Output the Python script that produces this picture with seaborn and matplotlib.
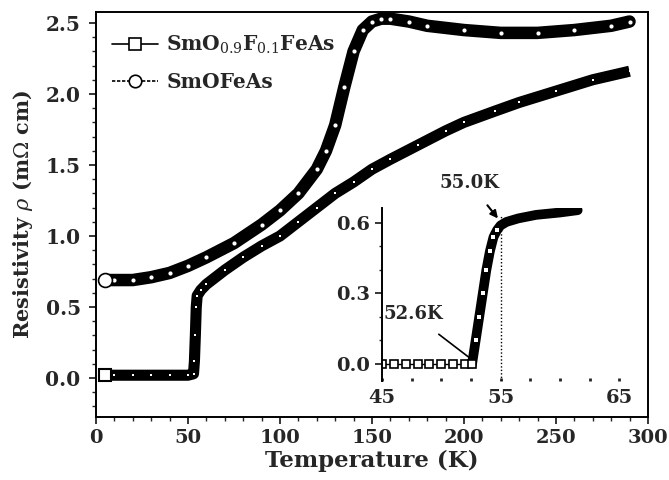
import numpy as np
import pandas as pd
import matplotlib
matplotlib.use("Agg")
import matplotlib.pyplot as plt
from matplotlib.lines import Line2D
from matplotlib.ticker import MultipleLocator
import seaborn as sns

# ---- data ----
t_f = [5, 10, 20, 30, 40, 50, 53, 53.5, 54, 54.5, 55, 57, 60, 70, 80, 90, 100, 110, 120,
       130, 140, 150, 160, 175, 190, 200, 217, 230, 250, 270, 290]
rho_f = [0.02, 0.02, 0.02, 0.02, 0.02, 0.02, 0.03, 0.12, 0.3, 0.5, 0.58, 0.62, 0.66, 0.76,
         0.85, 0.93, 1.0, 1.1, 1.2, 1.3, 1.38, 1.47, 1.54, 1.64, 1.74, 1.8, 1.88, 1.94,
         2.02, 2.1, 2.16]
t_o = [5, 10, 20, 30, 40, 50, 60, 75, 90, 100, 110, 120, 125, 130, 135, 140, 145, 150,
       155, 160, 170, 180, 200, 220, 240, 260, 280, 290]
rho_o = [0.69, 0.69, 0.69, 0.71, 0.74, 0.79, 0.85, 0.95, 1.08, 1.18, 1.3, 1.47, 1.6, 1.78,
         2.05, 2.3, 2.45, 2.51, 2.53, 2.53, 2.51, 2.48, 2.45, 2.43, 2.43, 2.45, 2.48, 2.51]

t_in = [45, 46, 47, 48, 49, 50, 51, 52, 52.6, 52.9, 53.2, 53.5, 53.8, 54.1, 54.4, 54.7,
        55.0, 55.5, 56.5, 58, 60, 61.5]
rho_in = [0.0, 0.0, 0.0, 0.0, 0.0, 0.0, 0.0, 0.0, 0.0, 0.1, 0.2, 0.3, 0.4, 0.48, 0.54,
          0.57, 0.59, 0.605, 0.62, 0.635, 0.645, 0.655]

labels = [r"SmO$_{0.9}$F$_{0.1}$FeAs", "SmOFeAs"]
main_xticks = [0, 50, 100, 150, 200, 250, 300]
main_yticks = [0.0, 0.5, 1.0, 1.5, 2.0, 2.5]
inset_xticks = [45, 55, 65]
inset_yticks = [0.0, 0.3, 0.6]

sns.set_theme(style="ticks")
plt.rcParams["font.family"] = ["DejaVu Serif"]
plt.rcParams["mathtext.fontset"] = "dejavuserif"

fig = plt.figure(figsize=(6.69, 4.80), dpi=100)
ax = fig.add_axes([0.1435, 0.131, 0.825, 0.844])

df_f = pd.DataFrame({"T": t_f, "rho": rho_f})
df_o = pd.DataFrame({"T": t_o, "rho": rho_o})

sns.lineplot(data=df_o, x="T", y="rho", ax=ax, color="black", lw=9, solid_capstyle="round")
sns.lineplot(data=df_o, x="T", y="rho", ax=ax, color="white", lw=0, marker="o",
             markersize=3, markeredgewidth=0)
sns.lineplot(data=df_f, x="T", y="rho", ax=ax, color="black", lw=8, solid_capstyle="butt")
sns.lineplot(data=df_f, x="T", y="rho", ax=ax, color="white", lw=0,
             marker="s", markersize=2, markeredgewidth=0)
# open markers at the start
ax.plot(t_o[0], rho_o[0], marker="o", ms=10, mfc="white", mec="black", mew=1.2, ls="none")
ax.plot(t_f[0], rho_f[0], marker="s", ms=8, mfc="white", mec="black", mew=1.5, ls="none")

ax.set_xlim(0, 300)
ax.set_ylim(-0.275, 2.577)
ax.set_xticks(main_xticks)
ax.set_yticks(main_yticks)
ax.set_yticklabels([f"{v:.1f}" for v in main_yticks])
ax.xaxis.set_minor_locator(MultipleLocator(10))
ax.yaxis.set_minor_locator(MultipleLocator(0.1))
ax.tick_params(which="major", direction="out", length=5, width=1.3, labelsize=14,
               top=False, right=False)
ax.tick_params(axis="y", which="major", pad=6, labelsize=14.5)
ax.tick_params(which="minor", direction="out", length=3, width=1.0, top=False, right=False)
for lab in ax.get_xticklabels() + ax.get_yticklabels():
    lab.set_fontweight("bold")
for s in ax.spines.values():
    s.set_linewidth(1.4)
    s.set_color("black")
ax.set_xlabel("Temperature (K)", fontsize=16.5, fontweight="bold", labelpad=2)
ax.set_ylabel(r"Resistivity $\rho$ (m$\Omega$ cm)", fontsize=15, fontweight="bold")
ax.yaxis.set_label_coords(-0.11, 0.5)

handles = [
    Line2D([], [], color="black", lw=1.2, marker="s", ms=8, mfc="white", mec="black", mew=1.2),
    Line2D([], [], color="black", lw=1.2, ls=(0, (2, 1)), marker="o", ms=9, mfc="white",
           mec="black", mew=1.2),
]
leg = ax.legend(handles, labels, loc="upper left", bbox_to_anchor=(0.0, 0.985), frameon=False,
                fontsize=14.5, handlelength=2.3, handletextpad=0.4, labelspacing=0.75,
                borderaxespad=0.4)
for t in leg.get_texts():
    t.set_fontweight("bold")

# ---- inset ----
ins = fig.add_axes([0.571, 0.206, 0.39, 0.361])
ins.patch.set_alpha(0)
df_in = pd.DataFrame({"T": t_in, "rho": rho_in})
rise = df_in[df_in["T"] >= 52.6]
sns.lineplot(data=rise, x="T", y="rho", ax=ins, color="black", lw=7, solid_capstyle="round")
sns.lineplot(data=rise[rise["T"] <= 54.7], x="T", y="rho", ax=ins, color="white", lw=0,
             marker="s", markersize=3, markeredgewidth=0)
flat = df_in[df_in["T"] <= 52.6]
ins.plot(np.array(flat["T"]), np.array(flat["rho"]), color="black", lw=1, marker="s", ms=6,
         mfc="white", mec="black", mew=1.2)
ins.plot([55, 55], [-0.075, 0.63], color="black", lw=1, ls=(0, (1, 1.5)))

ins.set_xlim(45, 67)
ins.set_ylim(-0.075, 0.665)
ins.set_xticks(inset_xticks)
ins.set_yticks(inset_yticks)
ins.set_yticklabels([f"{v:.1f}" for v in inset_yticks])
ins.xaxis.set_minor_locator(MultipleLocator(2.5))
ins.yaxis.set_minor_locator(MultipleLocator(0.1))
for side in ["top", "right", "bottom"]:
    ins.spines[side].set_visible(False)
ins.spines["left"].set_linewidth(1.4)
ins.spines["left"].set_color("black")
ins.tick_params(axis="y", which="major", direction="out", length=5, width=1.3, labelsize=14)
ins.tick_params(axis="y", which="minor", direction="out", length=2, width=1)
ins.tick_params(axis="x", which="major", direction="in", length=2, width=2, labelsize=14, pad=6)
ins.tick_params(axis="x", which="minor", direction="in", length=2, width=2)
for lab in ins.get_xticklabels() + ins.get_yticklabels():
    lab.set_fontweight("bold")
ins.set_xlabel("")
ins.set_ylabel("")

ins.annotate("55.0K", xy=(54.85, 0.615), xytext=(52.4, 0.77), fontsize=13, fontweight="bold",
             ha="center", va="center", annotation_clip=False,
             arrowprops=dict(arrowstyle="-|>", color="black", lw=1.5, shrinkA=9, shrinkB=1,
                             mutation_scale=11))
ins.annotate("52.6K", xy=(52.5, 0.02), xytext=(47.6, 0.21), fontsize=13, fontweight="bold",
             ha="center", va="center", annotation_clip=False,
             arrowprops=dict(arrowstyle="-", color="black", lw=1.2, shrinkA=9, shrinkB=1))

fig.savefig("out.png", dpi=100)
